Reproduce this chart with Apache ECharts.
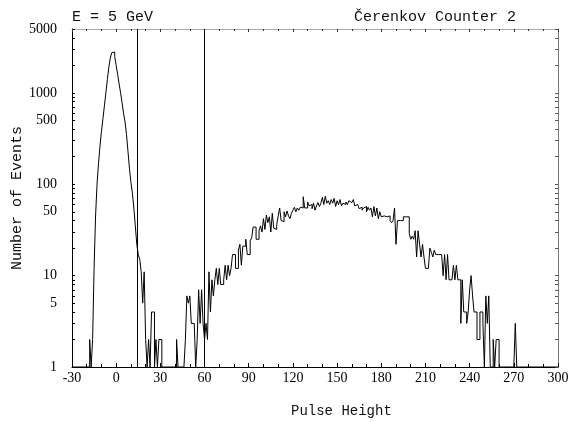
<!DOCTYPE html>
<html>
<head>
<meta charset="utf-8">
<script src="https://cdn.jsdelivr.net/npm/echarts@6/dist/echarts.min.js"></script>
<style>
html,body{margin:0;padding:0;background:#fff;}
#c{width:580px;height:422px;}
</style>
</head>
<body>
<div id="c"></div>
<script>
// Histogram: counts per 1-unit bin, first bin starts at x = -30
const binStart = -30;
const counts = [
  0,0,0,0,0,0,0,0,0,0,                       // -30..-21
  0,0,2,1,2,12,45,100,170,260,               // -20..-11
  380,520,720,1000,1400,1900,2400,2750,2800,2500, // -10..-1
  2000,1600,1250,1000,780,600,480,350,230,150,    // 0..9
  105,80,55,35,22,17,15,11,5,11,             // 10..19
  2,0,2,0,4,4,0,2,1,2,                       // 20..29
  2,0,0,0,0,0,0,0,0,0,                       // 30..39
  0,2,0,0,0,0,0,2,6,5,                       // 40..49
  6,3,3,3,1,2,7,3,7,3,                       // 50..59
  2,3,2,11,4,9,6,9,12,8,                     // 60..69
  12,8,8,9,13,9,13,10,12,17,                 // 70..79
  17,12,12,19,22,13,21,21,25,17,             // 80..89
  17,24,26,34,34,25,25,31,35,30,             // 90..99
  42,32,46,38,44,30,48,33,32,36,             // 100..109
  45,55,40,39,50,44,51,45,42,48,             // 110..119
  52,56,50,55,52,56,55,73,55,55,             // 120..129
  64,58,60,54,62,52,58,63,57,62,             // 130..139
  72,60,74,62,66,60,68,62,70,57,             // 140..149
  66,60,68,58,62,60,64,60,66,63,             // 150..159
  62,68,58,60,60,54,56,52,55,57,             // 160..169
  50,56,52,55,44,57,45,55,42,50,             // 170..179
  44,45,46,44,42,45,40,38,40,55,             // 180..189
  22,40,40,42,40,44,44,44,44,29,             // 190..199
  25,27,25,31,16,31,22,16,22,16,             // 200..209
  12,12,12,20,18,16,19,17,17,17,             // 210..219
  17,17,10,17,9,17,9,9,9,13,                 // 220..229
  9,13,9,9,3,9,4,4,3,4,                      // 230..239
  7,10,6,4,4,2,2,4,4,3,                      // 240..249
  0,6,3,6,0,0,2,1,2,2,                       // 250..259
  0,0,0,0,0,0,0,0,0,0,                       // 260..269
  0,3,0,0,0,0,0,0,0,0,                       // 270..279
  0,0,0,0,0,0,0,0,0,0,                       // 280..289
  0,0,0,0,0,0,0,0,0,0                        // 290..299
];
const cutLines = [14.5, 59.5];
const xTicks = [-30, 0, 30, 60, 90, 120, 150, 180, 210, 240, 270, 300];
const yLabels = [1, 5, 10, 50, 100, 500, 1000, 5000];
const yTicks = [1,2,3,4,5,6,7,8,9,10,20,30,40,50,60,70,80,90,100,200,300,400,500,600,700,800,900,1000,2000,3000,4000,5000];
const titleLeft = 'E = 5 GeV';
const titleRight = 'Čerenkov Counter 2';
const xName = 'Pulse Height';
const yName = 'Number of Events';

const xMin = xTicks[0], xMax = xTicks[xTicks.length - 1];
const yMin = yLabels[0], yMax = yLabels[yLabels.length - 1];

// step points at bin left edges, plus closing point at right edge
const pts = counts.map((v, i) => [binStart + i, Math.max(v, yMin)]);
pts.push([binStart + counts.length, Math.max(counts[counts.length - 1], yMin)]);

const labFont = 'Liberation Serif';
const txtFont = 'Liberation Mono';

const chart = echarts.init(document.getElementById('c'), null, {renderer: 'canvas'});
chart.setOption({
  animation: false,
  backgroundColor: '#fff',
  grid: {left: 72, right: 22, top: 29, bottom: 55, containLabel: false, outerBoundsMode: 'none'},
  title: [
    {text: titleLeft, left: 67, top: 5, textStyle: {fontFamily: txtFont, fontSize: 15, fontWeight: 'normal', color: '#111'}},
    {text: titleRight, left: 349, top: 5, textStyle: {fontFamily: txtFont, fontSize: 15, fontWeight: 'normal', color: '#111'}}
  ],
  graphic: [
    {type: 'text', left: 291, top: 404, style: {text: xName, font: '14px "Liberation Mono"', fill: '#111'}}
  ],
  xAxis: [
    {
      type: 'value', min: xMin, max: xMax, interval: 30,
      axisLine: {show: true, onZero: false, lineStyle: {color: '#000', width: 1}},
      axisTick: {show: true, inside: true, length: 4, lineStyle: {color: '#000'}},
      minorTick: {show: true, splitNumber: 3, length: 3, lineStyle: {color: '#000'}},
      axisLabel: {show: true, margin: 4, fontFamily: labFont, fontSize: 14, color: '#000',
        customValues: xTicks, formatter: v => String(v)},
      splitLine: {show: false}
    },
    {
      type: 'value', min: xMin, max: xMax, interval: 30, position: 'top',
      axisLine: {show: true, onZero: false, lineStyle: {color: '#aaa', width: 1}},
      axisTick: {show: true, inside: true, length: 3, lineStyle: {color: '#333'}},
      minorTick: {show: true, splitNumber: 3, length: 2, lineStyle: {color: '#333'}},
      axisLabel: {show: false},
      splitLine: {show: false}
    }
  ],
  yAxis: [
    {
      type: 'log', logBase: 10, min: yMin, max: yMax,
      name: yName, nameLocation: 'middle', nameGap: 47, nameRotate: 90, nameMoveOverlap: false,
      nameTextStyle: {fontFamily: txtFont, fontSize: 15, color: '#111'},
      axisLine: {show: true, onZero: false, lineStyle: {color: '#000', width: 1}},
      axisTick: {show: true, inside: true, length: 3, lineStyle: {color: '#000'}, customValues: yTicks},
      axisLabel: {show: true, margin: 15, fontFamily: labFont, fontSize: 14, color: '#000',
        customValues: yLabels, formatter: v => String(Math.round(v))},
      splitLine: {show: false}
    },
    {
      type: 'log', logBase: 10, min: yMin, max: yMax, position: 'right',
      axisLine: {show: true, onZero: false, lineStyle: {color: '#777', width: 1}},
      axisTick: {show: true, inside: true, length: 3, lineStyle: {color: '#555'}, customValues: yTicks},
      axisLabel: {show: false},
      splitLine: {show: false}
    }
  ],
  series: [
    {
      type: 'line', step: 'end', xAxisIndex: 0, yAxisIndex: 0,
      data: pts, showSymbol: false, symbol: 'none',
      lineStyle: {color: '#000', width: 1},
      clip: true,
      markLine: {
        silent: true, symbol: 'none', label: {show: false},
        lineStyle: {color: '#000', type: 'solid', width: 1},
        data: cutLines.map(v => ({xAxis: v}))
      }
    }
  ]
});
</script>
</body>
</html>
